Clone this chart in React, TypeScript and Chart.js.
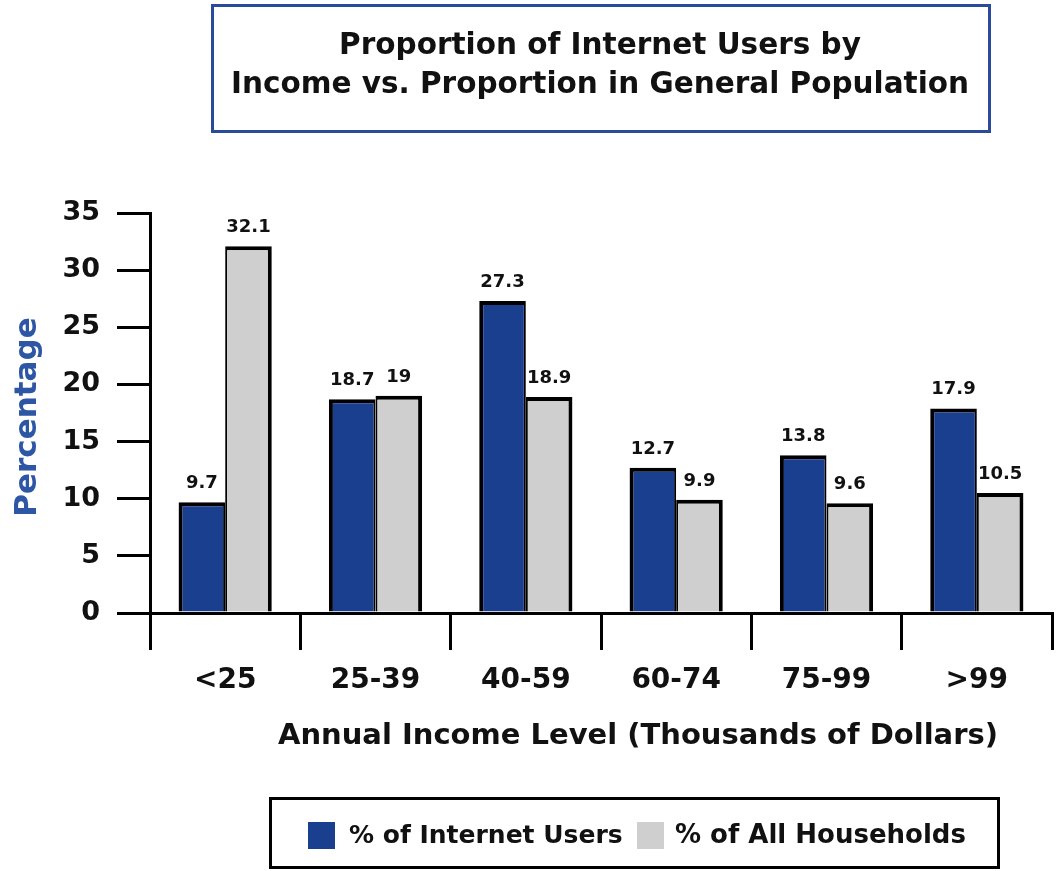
import React, { useEffect, useRef } from "react";
import { Chart, registerables } from "chart.js";

Chart.register(...registerables);

// Income brackets (thousands of dollars)
const incomeLevels = ["<25", "25-39", "40-59", "60-74", "75-99", ">99"];
// Share of internet users in each bracket (%)
const internetUsers = [9.7, 18.7, 27.3, 12.7, 13.8, 17.9];
// Share of all households in each bracket (%)
const allHouseholds = [32.1, 19, 18.9, 9.9, 9.6, 10.5];

const yMin = 0;
const yMax = 35;
const yStep = 5;

const titleLines = [
  "Proportion of Internet Users by",
  "Income vs. Proportion in General Population",
];
const xAxisTitle = "Annual Income Level (Thousands of Dollars)";
const yAxisTitle = "Percentage";
const seriesNames = ["% of Internet Users", "% of All Households"];

const BLUE = "#1b3f8f";
const GRAY = "#cfcfcf";
const FRAME_BLUE = "#2a4b9b";
const LABEL_BLUE = "#2d56a5";
const FONT = "'DejaVu Sans', sans-serif";

const decorations = {
  id: "decorations",
  afterDatasetsDraw(chart: any) {
    const ctx = chart.ctx;
    ctx.save();
    ctx.fillStyle = "#111";
    ctx.font = `bold 18px ${FONT}`;
    ctx.textAlign = "center";
    ctx.textBaseline = "bottom";
    chart.data.datasets.forEach((ds: any, di: number) => {
      const meta = chart.getDatasetMeta(di);
      meta.data.forEach((bar: any, i: number) => {
        ctx.fillText(String(ds.data[i]), bar.x, bar.y - 10);
      });
    });
    ctx.restore();
  },
  afterDraw(chart: any) {
    const ctx = chart.ctx;
    ctx.save();

    // Title frame
    ctx.lineWidth = 3;
    ctx.strokeStyle = FRAME_BLUE;
    ctx.strokeRect(212.5, 5.5, 777, 126);
    ctx.fillStyle = "#111";
    ctx.font = `bold 29.5px ${FONT}`;
    ctx.textAlign = "center";
    ctx.textBaseline = "middle";
    ctx.fillText(titleLines[0], 600, 46);
    ctx.fillText(titleLines[1], 600, 85);

    // Axis titles
    ctx.font = `bold 29px ${FONT}`;
    ctx.fillText(xAxisTitle, 638, 736);

    ctx.save();
    ctx.translate(28, 417);
    ctx.rotate(-Math.PI / 2);
    ctx.fillStyle = LABEL_BLUE;
    ctx.font = `bold 31px ${FONT}`;
    ctx.fillText(yAxisTitle, 0, 0);
    ctx.restore();

    // Legend frame and entries
    ctx.lineWidth = 3;
    ctx.strokeStyle = "#000";
    ctx.strokeRect(270.5, 798.5, 728, 69);
    ctx.textAlign = "left";
    ctx.fillStyle = BLUE;
    ctx.fillRect(308, 822, 27, 27);
    ctx.fillStyle = "#111";
    ctx.font = `bold 25px ${FONT}`;
    ctx.fillText(seriesNames[0], 349, 836);
    ctx.fillStyle = GRAY;
    ctx.fillRect(637, 822, 27, 27);
    ctx.fillStyle = "#111";
    ctx.font = `bold 26px ${FONT}`;
    ctx.fillText(seriesNames[1], 675, 836);

    ctx.restore();
  },
};

export default function App() {
  const canvasRef = useRef<HTMLCanvasElement | null>(null);

  useEffect(() => {
    document.body.style.margin = "0";
    const canvas = canvasRef.current;
    if (!canvas) return;
    const chart = new Chart(canvas, {
      type: "bar",
      data: {
        labels: incomeLevels,
        datasets: [
          {
            label: seriesNames[0],
            data: internetUsers,
            backgroundColor: BLUE,
            borderColor: "#000",
            borderWidth: { left: 4, top: 4, right: 2, bottom: 0 },
            borderSkipped: false,
          },
          {
            label: seriesNames[1],
            data: allHouseholds,
            backgroundColor: GRAY,
            borderColor: "#000",
            borderWidth: { left: 2, top: 4, right: 4, bottom: 0 },
            borderSkipped: false,
          },
        ],
      },
      options: {
        responsive: false,
        animation: false,
        devicePixelRatio: 1,
        layout: { padding: { top: 213, right: 5, left: 0, bottom: 0 } },
        datasets: {
          bar: { categoryPercentage: 0.62, barPercentage: 1 },
        },
        plugins: {
          legend: { display: false },
          title: { display: false },
          tooltip: { enabled: false },
        },
        scales: {
          x: {
            type: "category",
            offset: true,
            grid: {
              offset: true,
              drawOnChartArea: false,
              drawTicks: true,
              tickLength: 37,
              lineWidth: 3,
              color: "#000",
            },
            border: { display: true, width: 3, color: "#000" },
            ticks: {
              color: "#111",
              padding: 14,
              font: { family: FONT, size: 28, weight: "bold" },
            },
            afterFit(scale: any) {
              scale.height = 871 - 613;
            },
          },
          y: {
            min: yMin,
            max: yMax,
            grid: {
              drawOnChartArea: false,
              drawTicks: true,
              tickLength: 33,
              lineWidth: 3,
              color: "#000",
            },
            border: { display: true, width: 3, color: "#000" },
            ticks: {
              stepSize: yStep,
              color: "#111",
              padding: 17,
              font: { family: FONT, size: 27, weight: "bold" },
            },
            afterFit(scale: any) {
              scale.width = 150;
            },
          },
        },
      },
      plugins: [decorations],
    });
    return () => chart.destroy();
  }, []);

  return (
    <div style={{ width: 1057, height: 871, background: "#fff" }}>
      <canvas ref={canvasRef} width={1057} height={871} style={{ display: "block" }} />
    </div>
  );
}
